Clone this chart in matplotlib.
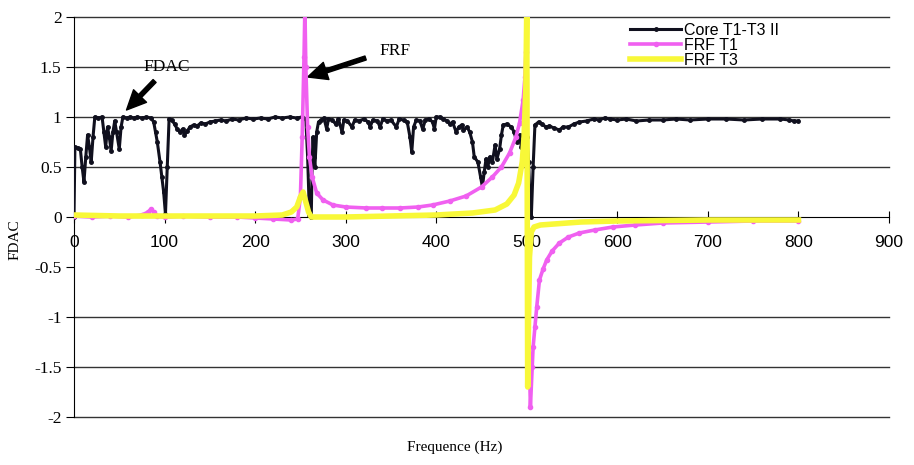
import numpy as np
import matplotlib
matplotlib.use("Agg")
import matplotlib.pyplot as plt

# Core T1-T3 II
core_x = [0, 1, 4, 7, 9, 11, 13, 15, 17, 19, 21, 23, 27, 31, 33, 35, 37, 39, 41, 43,
          45, 47, 50, 52, 54, 58, 62, 66, 70, 75, 80, 85, 88, 90, 92, 95, 97, 99, 101, 103,
          105, 108, 111, 114, 117, 120, 122, 125, 128, 132, 136, 140, 145, 150, 156, 162, 168, 175, 182, 190,
          198, 206, 214, 222, 230, 238, 246, 252, 256, 258, 260, 262, 263, 264, 265, 266, 268, 270, 273, 276,
          279, 281, 285, 289, 292, 296, 298, 302, 307, 310, 315, 320, 325, 327, 330, 335, 338, 341, 346, 350,
          356, 359, 364, 368, 371, 373, 375, 378, 382, 385, 388, 392, 396, 398, 400, 404, 408, 412, 415, 418,
          422, 425, 428, 430, 434, 437, 440, 442, 446, 449, 451, 453, 455, 457, 459, 462, 465, 467, 470, 472,
          474, 478, 483, 486, 489, 492, 494, 497, 500, 502, 504, 505, 507, 509, 513, 517, 521, 525, 530, 536,
          540, 546, 552, 558, 566, 574, 580, 586, 592, 600, 610, 621, 635, 650, 665, 680, 700, 720, 740, 760,
          780, 790, 795, 800]
core_y = [0.0, 0.7, 0.69, 0.68, 0.5, 0.35, 0.6, 0.82, 0.7, 0.55, 0.8, 1.0, 0.99, 1.0, 0.85, 0.7, 0.9, 0.8, 0.66, 0.85,
          0.96, 0.85, 0.68, 0.9, 1.0, 0.99, 1.0, 0.99, 1.0, 0.99, 1.0, 0.99, 0.95, 0.85, 0.75, 0.55, 0.4, 0.25, 0.03, 0.5,
          0.98, 0.97, 0.93, 0.88, 0.85, 0.88, 0.82, 0.86, 0.9, 0.92, 0.91, 0.94, 0.93, 0.95, 0.96, 0.97, 0.96, 0.98, 0.97, 0.99,
          0.98, 0.99, 0.98, 1.0, 0.99, 1.0, 0.99, 1.0, 0.98, 0.6, 0.02, 0.0, 0.55, 0.8, 0.6, 0.5, 0.85, 0.95, 0.97, 0.99,
          0.88, 0.98, 0.97, 0.93, 0.98, 0.85, 0.97, 0.96, 0.9, 0.97, 0.96, 0.98, 0.95, 0.9, 0.97, 0.96, 0.9, 0.98, 0.96, 0.97,
          0.9, 0.98, 0.97, 0.95, 0.8, 0.65, 0.9, 0.97, 0.96, 0.88, 0.97, 0.98, 0.95, 0.88, 1.0, 1.0, 0.98, 0.96, 0.93, 0.95,
          0.85, 0.9, 0.92, 0.87, 0.9, 0.85, 0.75, 0.6, 0.55, 0.4, 0.3, 0.45, 0.58, 0.5, 0.6, 0.55, 0.72, 0.58, 0.68, 0.82,
          0.92, 0.93, 0.9, 0.85, 0.75, 0.82, 0.7, 0.75, 0.8, 0.55, 0.05, 0.0, 0.5, 0.92, 0.95, 0.93, 0.9, 0.91, 0.89, 0.87,
          0.9, 0.9, 0.93, 0.95, 0.96, 0.98, 0.97, 0.99, 0.98, 0.97, 0.98, 0.96, 0.97, 0.97, 0.98, 0.97, 0.98, 0.98, 0.97, 0.98,
          0.98, 0.97, 0.96, 0.96]

# FRF T1
frf1_x = [0, 20, 40, 60, 75, 82, 85, 88, 92, 100, 120, 150, 180, 200, 220, 240, 247, 250, 252, 254,
          255, 256, 258, 260, 263, 268, 275, 286, 300, 323, 340, 360, 380, 396, 415, 433, 450, 462, 472, 481,
          488, 492, 496, 498, 499, 501, 503, 504, 506, 507, 509, 511, 514, 518, 522, 528, 536, 546, 558, 575,
          595, 620, 650, 700, 750, 800]
frf1_y = [0.01, 0.0, 0.01, 0.0, 0.02, 0.05, 0.08, 0.05, 0.01, 0.0, 0.01, 0.0, 0.0, -0.01, -0.02, -0.03, -0.02, 0.2, 0.8, 1.6,
          2.1, 1.5, 0.9, 0.6, 0.4, 0.24, 0.17, 0.12, 0.1, 0.09, 0.09, 0.09, 0.1, 0.12, 0.16, 0.21, 0.3, 0.4, 0.5, 0.64,
          0.8, 0.94, 1.17, 1.4, 1.65, -0.5, -1.5, -1.9, -1.5, -1.3, -1.1, -0.9, -0.63, -0.52, -0.43, -0.34, -0.26, -0.2, -0.16, -0.13,
          -0.1, -0.08, -0.06, -0.05, -0.04, -0.04]

# FRF T3
frf3_x = [0, 50, 100, 150, 200, 230, 240, 246, 250, 253, 256, 259, 262, 280, 300, 350, 400, 440, 465, 478,
          486, 491, 495, 497, 499, 500, 501, 502, 503, 505, 508, 515, 530, 560, 600, 700, 800]
frf3_y = [0.02, 0.01, 0.01, 0.01, 0.01, 0.02, 0.05, 0.1, 0.2, 0.25, 0.15, 0.05, 0.0, 0.0, 0.0, 0.01, 0.02, 0.04, 0.07, 0.13,
          0.22, 0.34, 0.55, 0.8, 1.3, 2.1, -1.7, -1.0, -0.4, -0.15, -0.1, -0.08, -0.07, -0.05, -0.04, -0.03, -0.03]

x_ticks = [0, 100, 200, 300, 400, 500, 600, 700, 800, 900]
y_ticks = [-2, -1.5, -1, -0.5, 0, 0.5, 1, 1.5, 2]
y_ticklabels = ['-2', '-1.5', '-1', '-0.5', '0', '0.5', '1', '1.5', '2']
grid_levels = [2, 1.5, 1, 0.5, -1, -1.5, -2]

fig = plt.figure(figsize=(9.14, 4.65), dpi=100)
ax = fig.add_axes([74 / 914, 1 - 417 / 465, 815 / 914, 400 / 465])

for g in grid_levels:
    ax.axhline(g, color='0.2', lw=1.0, zorder=1, clip_on=False)

ax.plot(core_x, core_y, color='#10101e', lw=2.2, marker='o', markersize=2.5,
        label='Core T1-T3 II', zorder=3)
ax.plot(frf1_x, frf1_y, color='#f060f0', lw=2.6, marker='o', markersize=3,
        label='FRF T1', zorder=4)
ax.plot(frf3_x, frf3_y, color='#f8f838', lw=4, label='FRF T3', zorder=5)

ax.set_xlim(0, 900)
ax.set_ylim(-2, 2)
ax.spines['left'].set_position(('data', 0))
ax.spines['bottom'].set_position(('data', 0))
ax.spines['top'].set_visible(False)
ax.spines['right'].set_visible(False)
ax.spines['bottom'].set_zorder(2)

ax.set_xticks(x_ticks)
ax.set_xticklabels([str(t) for t in x_ticks], family='Liberation Sans', fontsize=12.5)
ax.set_yticks(y_ticks)
ax.set_yticklabels(y_ticklabels, family='Liberation Serif', fontsize=12.5)
ax.tick_params(axis='x', direction='inout', length=8, pad=9)
ax.tick_params(axis='y', direction='out', length=6, pad=3)

fig.text(15 / 914, 1 - 240 / 465, 'FDAC', rotation=90, ha='center', va='center',
         family='Liberation Serif', fontsize=11)
fig.text(455 / 914, 1 - 447 / 465, 'Frequence (Hz)', ha='center', va='center',
         family='Liberation Serif', fontsize=11)

arrow = dict(facecolor='black', edgecolor='black', width=3, headwidth=13, headlength=14, shrink=0)
ax.annotate('', xy=(58, 1.07), xytext=(89, 1.36), arrowprops=arrow)
ax.text(102, 1.5, 'FDAC', ha='center', va='center', family='Liberation Serif', fontsize=12.5)
ax.annotate('', xy=(258, 1.40), xytext=(322, 1.59), arrowprops=arrow)
ax.text(354, 1.66, 'FRF', ha='center', va='center', family='Liberation Serif', fontsize=12.5)

leg = ax.legend(loc='upper left', bbox_to_anchor=(630 / 914, 1 - 23 / 465),
                bbox_transform=fig.transFigure, frameon=False,
                prop={'family': 'Liberation Sans', 'size': 11.5},
                handlelength=3.2, handletextpad=0.2, labelspacing=0.0,
                borderpad=0, borderaxespad=0, numpoints=1)

fig.savefig('out.png', dpi=100)
